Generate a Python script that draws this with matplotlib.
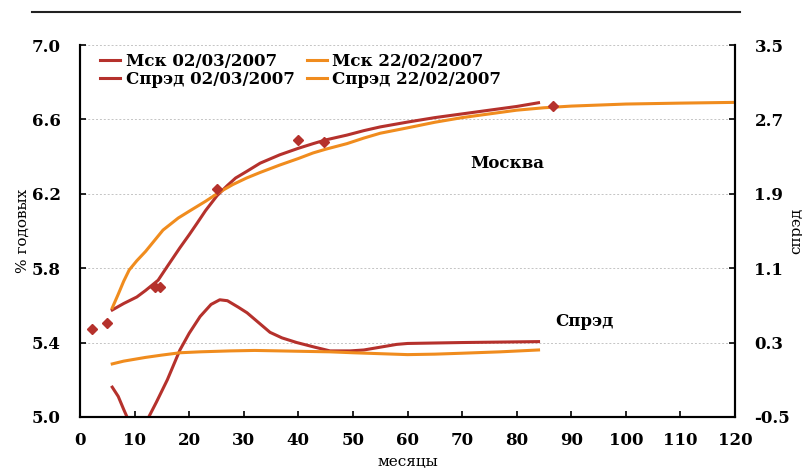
import matplotlib.pyplot as plt
from matplotlib.lines import Line2D

# Москва, 02/03/2007 (левая ось)
msk_red_x = [5.9, 8, 10.4, 12, 14.3, 16, 18.3, 20, 21.4, 23, 25.1, 27, 28.5, 30.5, 33, 36.6, 40, 42.7, 45,
             48.9, 52, 55, 60, 65, 70, 75, 80, 84]
msk_red_y = [5.575, 5.61, 5.645, 5.68, 5.735, 5.81, 5.91, 5.98, 6.04, 6.11, 6.19, 6.245, 6.285, 6.32, 6.365,
             6.41, 6.445, 6.47, 6.49, 6.516, 6.54, 6.56, 6.586, 6.61, 6.63, 6.65, 6.67, 6.69]

# Москва, 22/02/2007 (левая ось)
msk_org_x = [5.9, 7, 8, 9, 10.4, 12, 15.2, 18, 20.2, 23, 25.6, 28, 30.5, 33, 36.6, 40, 42.7, 45, 48.9, 52,
             55, 60, 65, 70, 75, 80, 85, 90, 100, 110, 120]
msk_org_y = [5.586, 5.66, 5.73, 5.79, 5.84, 5.89, 6.005, 6.07, 6.11, 6.16, 6.21, 6.25, 6.285, 6.315, 6.355,
             6.39, 6.42, 6.44, 6.47, 6.50, 6.526, 6.555, 6.585, 6.61, 6.63, 6.65, 6.663, 6.672, 6.683, 6.688,
             6.692]

# Котировки (ромбы)
pts_x = [2.2, 4.9, 13.8, 14.6, 25.1, 40.0, 44.7, 86.7]
pts_y = [5.475, 5.505, 5.70, 5.70, 6.226, 6.49, 6.48, 6.67]

# Спрэд, 02/03/2007 (правая ось)
spr_red_x = [5.9, 7, 8, 8.6, 10, 11, 12, 12.6, 14, 16, 18.3, 20, 22, 24, 25.6, 27, 29, 30.6, 33, 34.8, 37,
             39.7, 43, 45.8, 49.5, 52, 55, 58, 60, 70, 84]
spr_red_y = [-0.18, -0.28, -0.42, -0.50, -0.65, -0.66, -0.58, -0.50, -0.34, -0.10, 0.22, 0.40, 0.58, 0.71,
             0.76, 0.75, 0.68, 0.62, 0.50, 0.41, 0.35, 0.30, 0.25, 0.21, 0.21, 0.22, 0.25, 0.28, 0.29, 0.30,
             0.31]

# Спрэд, 22/02/2007 (правая ось)
spr_org_x = [5.9, 8, 10, 12, 15, 18.3, 22, 27.5, 32, 36.6, 41, 45.8, 50, 55, 60, 65, 70, 77, 84]
spr_org_y = [0.07, 0.10, 0.12, 0.14, 0.165, 0.19, 0.20, 0.21, 0.215, 0.21, 0.205, 0.20, 0.19, 0.18, 0.17,
             0.175, 0.185, 0.20, 0.22]

red = '#b5312c'
orange = '#f08c1e'

plt.rcParams['font.family'] = ['DejaVu Serif']
plt.rcParams['font.weight'] = 'bold'
plt.rcParams['font.size'] = 12

fig = plt.figure(figsize=(8.02, 4.70), dpi=100)
ax = fig.add_axes([0.0998, 0.113, 0.8167, 0.791])
ax2 = ax.twinx()

ax.plot(msk_red_x, msk_red_y, color=red, lw=2.2, label='Мск 02/03/2007')
ax.plot(msk_org_x, msk_org_y, color=orange, lw=2.2, label='Мск 22/02/2007')
ax.plot(pts_x, pts_y, 'D', color=red, ms=5, ls='none')
l3, = ax2.plot(spr_red_x, spr_red_y, color=red, lw=2.2)
l4, = ax2.plot(spr_org_x, spr_org_y, color=orange, lw=2.2)

ax.set_xlim(0, 120)
ax.set_ylim(5.0, 7.0)
ax2.set_ylim(-0.5, 3.5)
ax.set_xticks(range(0, 121, 10))
ax.set_yticks([5.0, 5.4, 5.8, 6.2, 6.6, 7.0])
ax.set_yticklabels(['5.0', '5.4', '5.8', '6.2', '6.6', '7.0'])
ax2.set_yticks([-0.5, 0.3, 1.1, 1.9, 2.7, 3.5])
ax2.set_yticklabels(['-0.5', '0.3', '1.1', '1.9', '2.7', '3.5'])
ax.yaxis.grid(True, ls=(0, (2, 2)), color='#c4c4c4', lw=0.7)
ax.set_axisbelow(True)

for a in (ax, ax2):
    a.spines['top'].set_visible(False)
    for s in ('left', 'right', 'bottom'):
        a.spines[s].set_linewidth(1.5)
    a.tick_params(direction='in', length=4, width=1.2, labelsize=12, pad=14)
ax.tick_params(axis='x', pad=11)

ax.set_xlabel('месяцы', fontsize=11, labelpad=4)
ax.set_ylabel('% годовых', fontsize=11)
ax.yaxis.set_label_coords(-0.077, 0.5)
ax2.set_ylabel('спрэд', fontsize=11, rotation=90)
ax2.yaxis.set_label_coords(1.083, 0.5)

ax.text(71.5, 6.34, 'Москва', fontsize=12, fontweight='bold')
ax.text(87, 5.49, 'Спрэд', fontsize=12, fontweight='bold')

h1, lb1 = ax.get_legend_handles_labels()
handles = [h1[0], l3, h1[1], l4]
labels = ['Мск 02/03/2007', 'Спрэд 02/03/2007', 'Мск 22/02/2007', 'Спрэд 22/02/2007']
ax.legend(handles, labels, loc='upper left', bbox_to_anchor=(0.008, 1.02), ncol=2, frameon=False,
          handlelength=1.2, handletextpad=0.35, columnspacing=0.7, labelspacing=0.05, fontsize=12)

fig.add_artist(Line2D([0.04, 0.923], [0.974, 0.974], color='#222222', lw=1.5))

fig.savefig('out.png', dpi=100)
